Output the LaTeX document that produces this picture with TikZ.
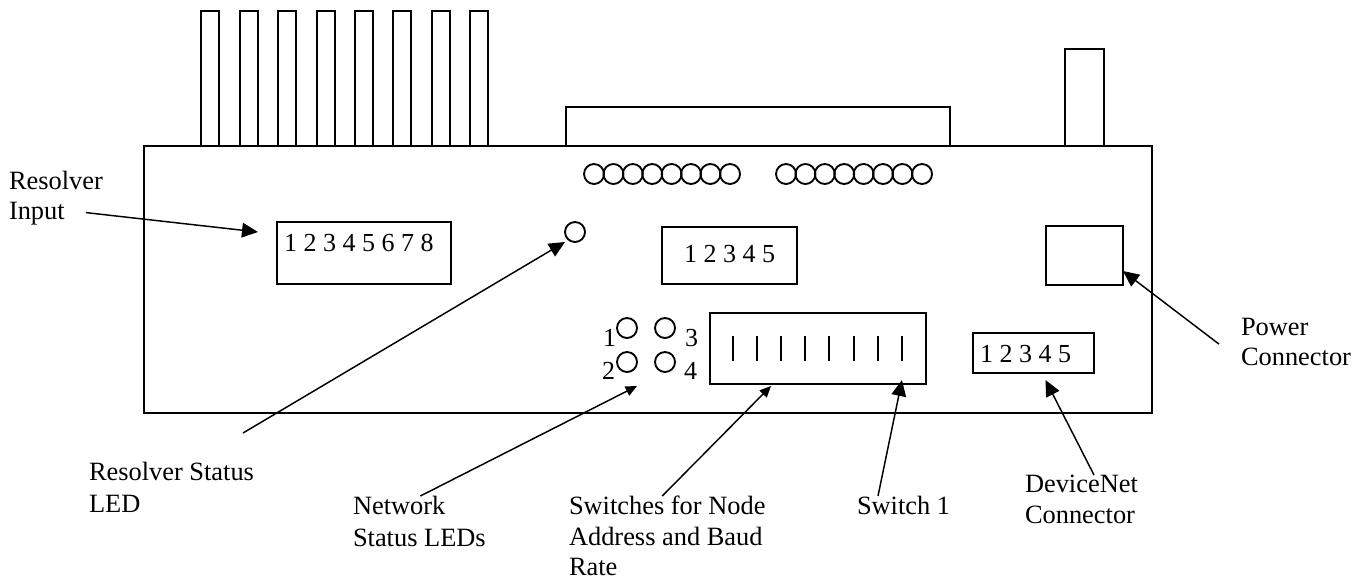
\documentclass[tikz,border=0pt]{standalone}
\usepackage{fontspec}
\setmainfont{Liberation Serif}
\usetikzlibrary{arrows.meta}
\tikzset{
  box/.style={draw,line width=1.3pt,inner sep=0pt,outer sep=0pt},
  pin/.style={box,minimum width=13.5pt,minimum height=101.25pt},
  led/.style={draw,circle,line width=1.4pt,inner sep=0pt,outer sep=0pt,minimum size=15pt},
  txt/.style={inner sep=0pt,outer sep=0pt,font=\fontsize{19.8}{23}\selectfont,align=left},
  num/.style={inner sep=0pt,outer sep=0pt,font=\fontsize{19.5}{23}\selectfont,anchor=base west},
  lead/.style={->,line width=1.1pt},
  bigtip/.style={>={Triangle[length=12pt,width=11pt]}},
  smalltip/.style={>={Triangle[length=8.5pt,width=7.5pt]}},
  tick/.style={line width=1.1pt}
}
\begin{document}
\begin{tikzpicture}[x=0.75pt,y=-0.75pt]
    \useasboundingbox (0,0) rectangle (1367,578);

    % housing and what sticks out of it
    \node[box,line width=1.1pt,minimum width=756pt,minimum height=200.25pt](board) at (648,279.5) {};
    \node[pin](p1) at (210,78.5) {};
    \node[pin](p2) at (249,78.5) {};
    \node[pin](p3) at (287,78.5) {};
    \node[pin](p4) at (326,78.5) {};
    \node[pin](p5) at (364,78.5) {};
    \node[pin](p6) at (402,78.5) {};
    \node[pin](p7) at (441,78.5) {};
    \node[pin](p8) at (479,78.5) {};
    \node[box,minimum width=288pt,minimum height=29.25pt](sub) at (758,126.5) {};
    \node[box,minimum width=29.25pt,minimum height=72.75pt](stick) at (1084.5,97.5) {};

    % top row of leds
    \node[led](a1) at (594,174) {};
    \node[led](a2) at (613.4,174) {};
    \node[led](a3) at (632.8,174) {};
    \node[led](a4) at (652.2,174) {};
    \node[led](a5) at (671.6,174) {};
    \node[led](a6) at (691,174) {};
    \node[led](a7) at (710.4,174) {};
    \node[led](a8) at (730,174) {};
    \node[led](b1) at (786,174) {};
    \node[led](b2) at (805.4,174) {};
    \node[led](b3) at (824.8,174) {};
    \node[led](b4) at (844.2,174) {};
    \node[led](b5) at (863.6,174) {};
    \node[led](b6) at (883,174) {};
    \node[led](b7) at (902.4,174) {};
    \node[led](b8) at (922,174) {};

    % connectors on the front
    \node[box,minimum width=130.5pt,minimum height=46.5pt](input) at (364,253) {};
    \node[num](inputnum) at (284,251) {1 2 3 4 5 6 7 8};
    \node[box,minimum width=101.25pt,minimum height=42.75pt](mid) at (729.5,255.5) {};
    \node[num](midnum) at (684,262) {1 2 3 4 5};
    \node[box,minimum width=57.75pt,minimum height=44.25pt](power) at (1084.5,255.5) {};
    \node[box,minimum width=90.75pt,minimum height=30pt](dnet) at (1033.5,353) {};
    \node[num](dnetnum) at (980,362) {1 2 3 4 5};

    % status leds
    \node[led](rled) at (575,232) {};
    \node[led](n1) at (627,328) {};
    \node[led](n2) at (627,362) {};
    \node[led](n3) at (665,328) {};
    \node[led](n4) at (665,362) {};
    \node[num](n1num) at (603,346) {1};
    \node[num](n2num) at (602,379) {2};
    \node[num](n3num) at (685,346) {3};
    \node[num](n4num) at (684,379) {4};

    % switches
    \node[box,minimum width=162pt,minimum height=53.25pt](sw) at (818,348.5) {};
    \draw [tick] (733,336) -- (733,361);
    \draw [tick] (757,336) -- (757,361);
    \draw [tick] (781,336) -- (781,361);
    \draw [tick] (805,336) -- (805,361);
    \draw [tick] (829,336) -- (829,361);
    \draw [tick] (854,336) -- (854,361);
    \draw [tick] (878,336) -- (878,361);
    \draw [tick] (902,336) -- (902,361);

    % labels
    \node[txt,anchor=north west](tinput) at (9,171) {Resolver\\Input};
    \node[txt,anchor=north west](tstatus) at (89,462) {Resolver Status\\[1pt]LED};
    \node[txt,anchor=north west](tnet) at (353,496) {Network\\[1pt]Status LEDs};
    \node[txt,anchor=north west](tadr) at (569,496) {Switches for Node\\Address and Baud\\Rate};
    \node[txt,anchor=north west](tsw) at (857,496) {Switch 1};
    \node[txt,anchor=north west](tdnet) at (1025,475) {DeviceNet\\Connector};
    \node[txt,anchor=north west](tpower) at (1241,318) {Power\\Connector};

    \draw [lead,bigtip] ([shift={(30,-13)}]tinput.south) -- ([shift={(-19,-21)}]input.west);
    \draw [lead,bigtip] ([shift={(-11,-29)}]tstatus.north east) -- ([shift={(-10,10)}]rled.center);
    \draw [lead,smalltip] ([shift={(1,0)}]tnet.north) -- ([shift={(-181,2)}]sw.south);
    \draw [lead,smalltip] ([shift={(-5,0)}]tadr.north) -- ([shift={(-47,2)}]sw.south);
    \draw [lead,bigtip] ([shift={(21,0)}]tsw.north west) -- ([shift={(84,-4)}]sw.south);
    \draw [lead,bigtip] ([shift={(69,0)}]tdnet.north west) -- ([shift={(12,7)}]dnet.south);
    \draw [lead,bigtip] ([shift={(-22,2)}]tpower.west) -- ([shift={(0,15.5)}]power.east);
\end{tikzpicture}
\end{document}
